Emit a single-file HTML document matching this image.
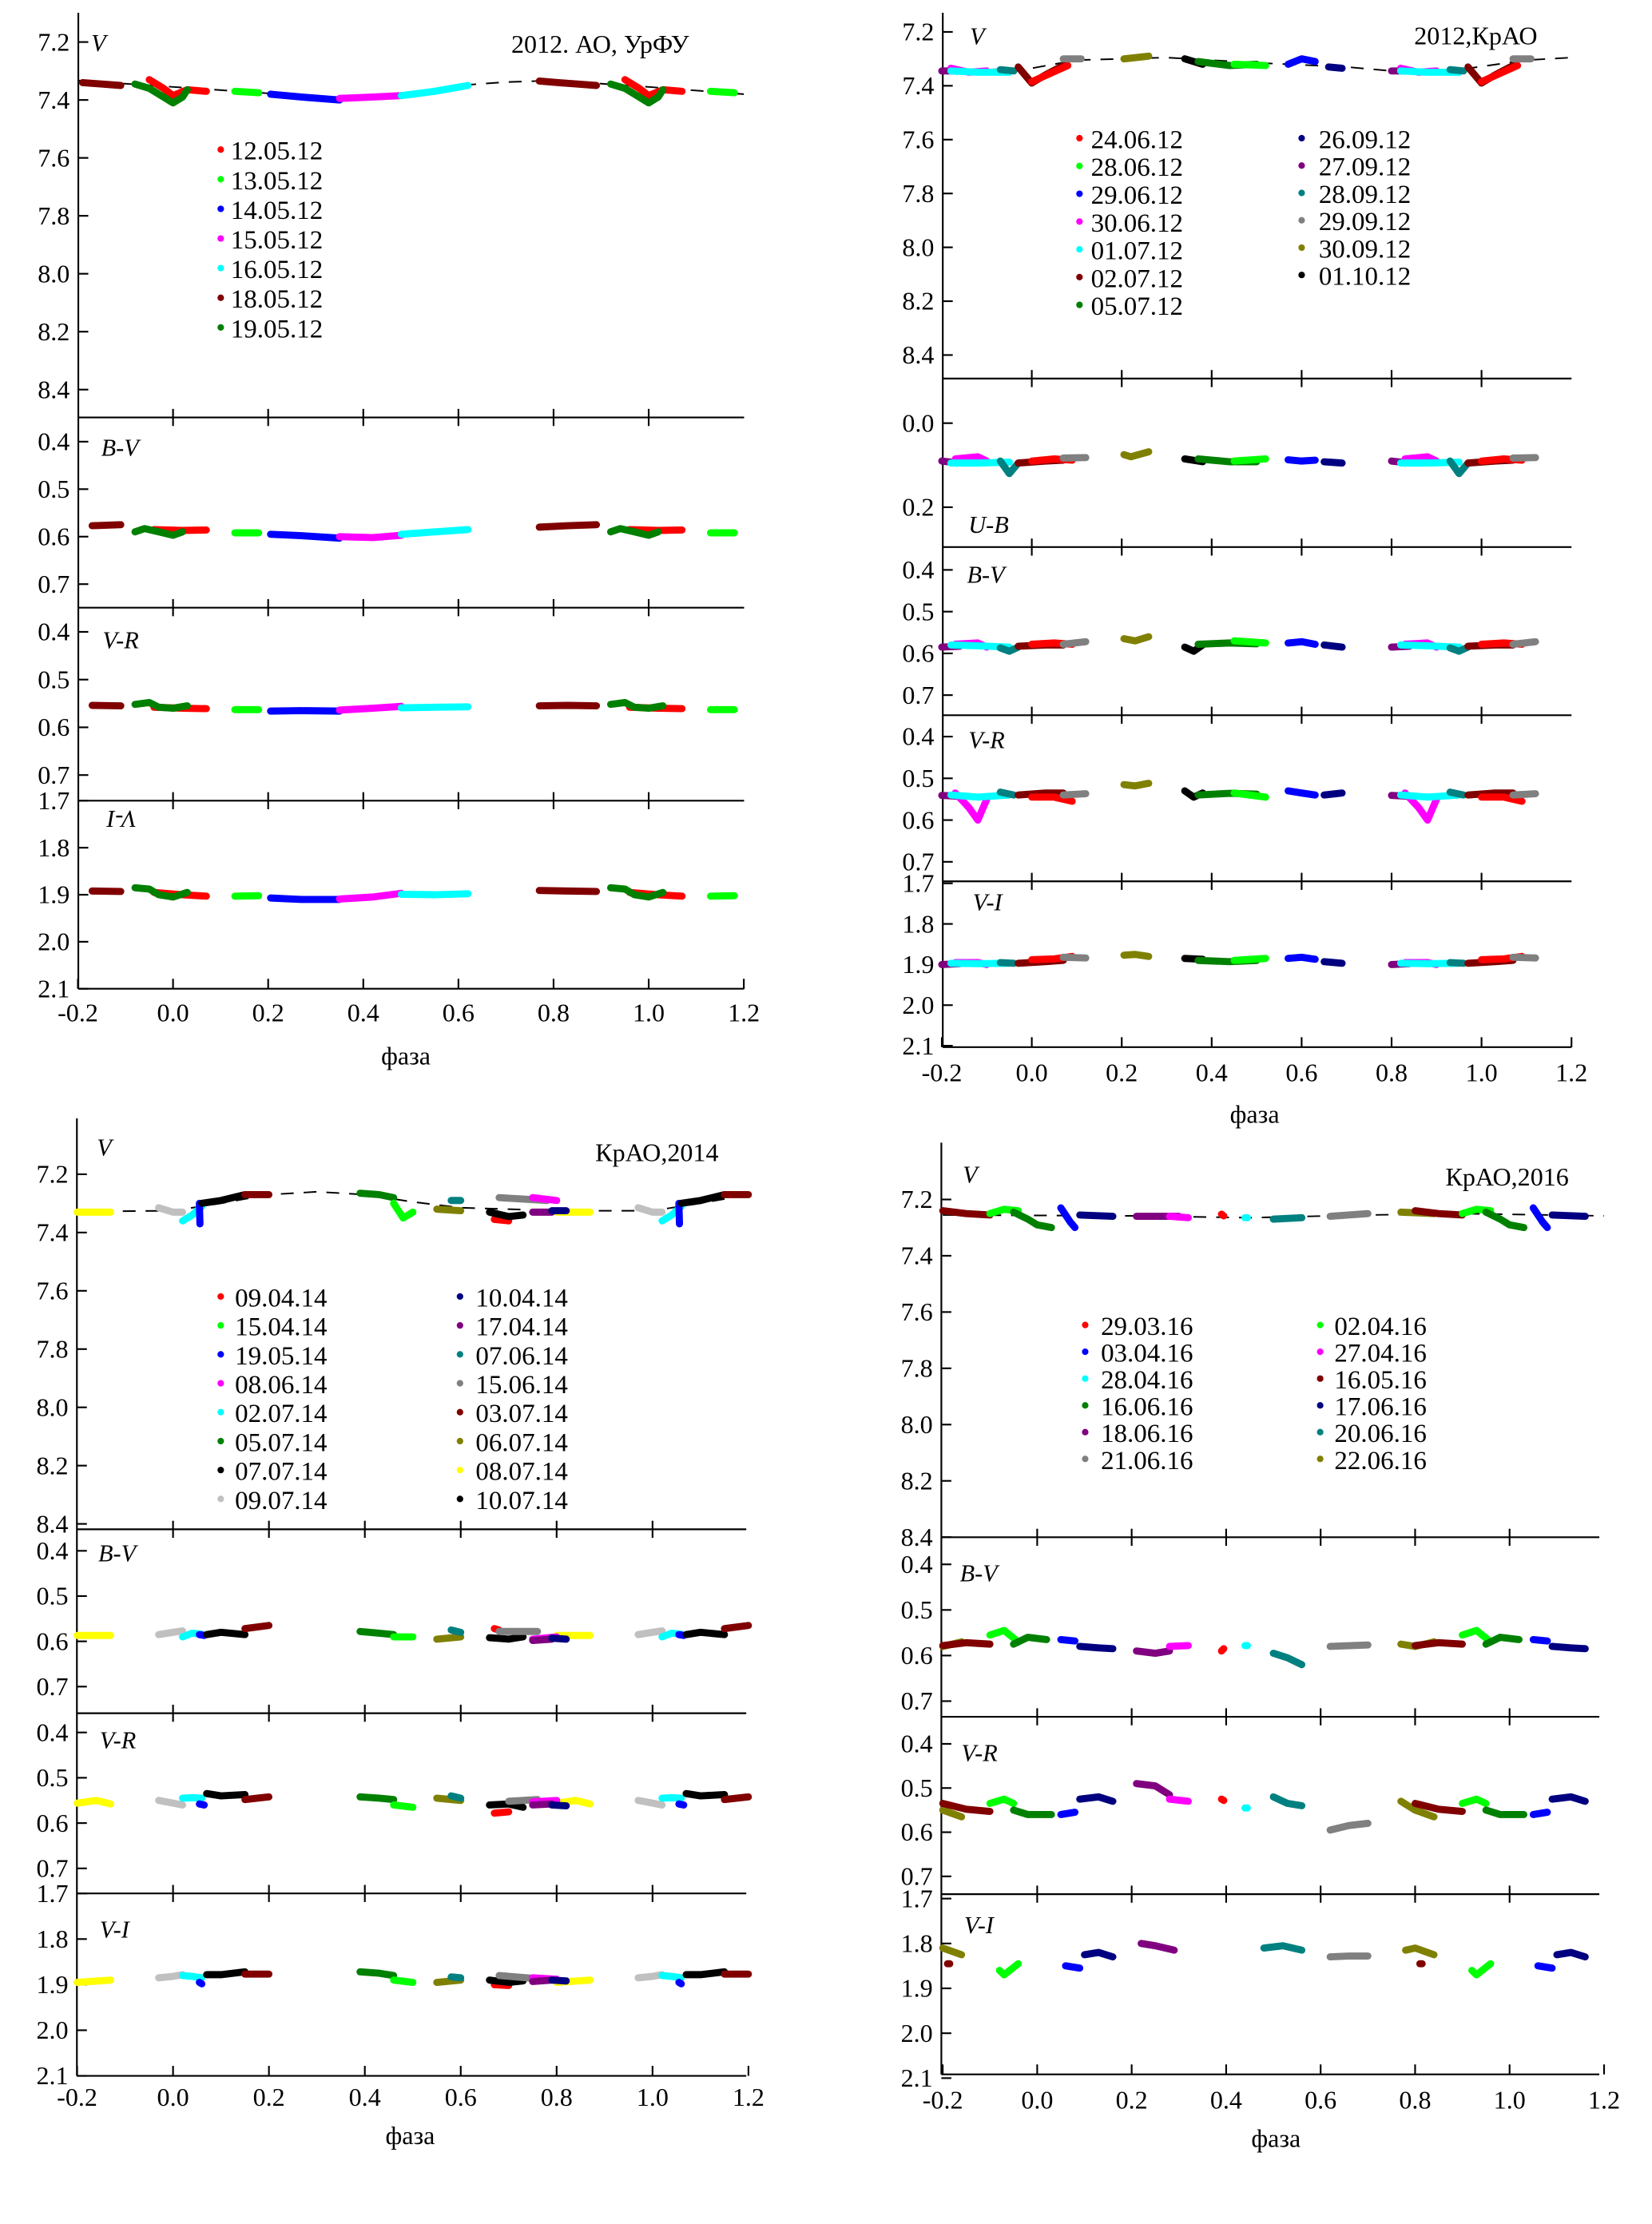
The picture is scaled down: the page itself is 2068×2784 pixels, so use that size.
<!DOCTYPE html>
<html><head><meta charset="utf-8"><title>Light curves</title>
<style>
html,body{margin:0;padding:0;background:#fff;}
svg{display:block;}
text{font-family:"Liberation Serif","DejaVu Serif",serif;fill:#000;}
</style></head>
<body>
<svg id="chart" xmlns="http://www.w3.org/2000/svg" width="2068" height="2784" viewBox="0 0 1160 1561" preserveAspectRatio="none" font-family="Liberation Serif, DejaVu Serif, serif"></svg>
<script>
// ===== colours per observation date =====
const colorsA = {"12.05.12":"#ff0000","13.05.12":"#00ff00","14.05.12":"#0000ff","15.05.12":"#ff00ff","16.05.12":"#00ffff","18.05.12":"#800000","19.05.12":"#008000"};
const colorsB = {"24.06.12":"#ff0000","28.06.12":"#00ff00","29.06.12":"#0000ff","30.06.12":"#ff00ff","01.07.12":"#00ffff","02.07.12":"#800000","05.07.12":"#008000","26.09.12":"#000080","27.09.12":"#800080","28.09.12":"#008080","29.09.12":"#808080","30.09.12":"#808000","01.10.12":"#000000"};
const colorsC = {"09.04.14":"#ff0000","15.04.14":"#00ff00","19.05.14":"#0000ff","08.06.14":"#ff00ff","02.07.14":"#00ffff","05.07.14":"#008000","07.07.14":"#000000","09.07.14":"#c0c0c0","10.04.14":"#000080","17.04.14":"#800080","07.06.14":"#008080","15.06.14":"#808080","03.07.14":"#800000","06.07.14":"#808000","08.07.14":"#ffff00","10.07.14":"#000000"};
const colorsD = {"29.03.16":"#ff0000","03.04.16":"#0000ff","28.04.16":"#00ffff","16.06.16":"#008000","18.06.16":"#800080","21.06.16":"#808080","02.04.16":"#00ff00","27.04.16":"#ff00ff","16.05.16":"#800000","17.06.16":"#000080","20.06.16":"#008080","22.06.16":"#808000"};

// ===== legends (date labels) =====
const legendA = ["12.05.12","13.05.12","14.05.12","15.05.12","16.05.12","18.05.12","19.05.12"];
const legendB1 = ["24.06.12","28.06.12","29.06.12","30.06.12","01.07.12","02.07.12","05.07.12"];
const legendB2 = ["26.09.12","27.09.12","28.09.12","29.09.12","30.09.12","01.10.12"];
const legendC1 = ["09.04.14","15.04.14","19.05.14","08.06.14","02.07.14","05.07.14","07.07.14","09.07.14"];
const legendC2 = ["10.04.14","17.04.14","07.06.14","15.06.14","03.07.14","06.07.14","08.07.14","10.07.14"];
const legendD1 = ["29.03.16","03.04.16","28.04.16","16.06.16","18.06.16","21.06.16"];
const legendD2 = ["02.04.16","27.04.16","16.05.16","17.06.16","20.06.16","22.06.16"];

// ===== tick labels =====
const ticksV = [7.2,7.4,7.6,7.8,8.0,8.2,8.4];
const ticksCol = [0.4,0.5,0.6,0.7];
const ticksVI = [1.7,1.8,1.9,2.0,2.1];
const ticksUB = [0.0,0.2];
const ticksPhase = [-0.2,0.0,0.2,0.4,0.6,0.8,1.0,1.2];

// ===== dashed model curves [phase] / [V mag] =====
const curveA_phase = [-0.2,0.0,0.2,0.35,0.5,0.6,0.7,0.8,1.0,1.2];
const curveA_mag = [7.333,7.355,7.377,7.40,7.385,7.35,7.338,7.333,7.355,7.38];
const curveB_phase = [-0.2,0.0,0.1,0.3,0.5,0.7,0.8,0.95,1.1,1.2];
const curveB_mag = [7.345,7.335,7.305,7.295,7.315,7.33,7.345,7.34,7.305,7.295];
const curveC_phase = [-0.2,0.0,0.1,0.2,0.3,0.4,0.5,0.6,0.7,0.8,1.0,1.1,1.2];
const curveC_mag = [7.328,7.325,7.30,7.27,7.26,7.27,7.295,7.315,7.32,7.325,7.325,7.30,7.27];
const curveD_phase = [-0.2,0.2,0.45,0.7,0.9,1.2];
const curveD_mag = [7.255,7.258,7.265,7.255,7.25,7.258];

// ===== Panel A (2012 AO UrFU) data: [phase, value] =====
const A_V = {
 "18.05.12":[[0.77,7.335],[0.81,7.34],[0.85,7.345],[0.89,7.35]],
 "12.05.12":[[0.95,7.33],[0.98,7.36],[1.0,7.385],[1.03,7.365],[1.07,7.37]],
 "19.05.12":[[0.92,7.345],[0.95,7.36],[0.98,7.39],[1.0,7.41],[1.02,7.39],[1.03,7.365]],
 "13.05.12":[[0.13,7.37],[0.18,7.375]],
 "14.05.12":[[0.205,7.38],[0.27,7.39],[0.35,7.40]],
 "15.05.12":[[0.35,7.395],[0.42,7.39],[0.48,7.385]],
 "16.05.12":[[0.48,7.385],[0.55,7.37],[0.62,7.35]]
};
const A_BV = {
 "18.05.12":[[0.77,0.58],[0.83,0.577],[0.89,0.575]],
 "12.05.12":[[0.96,0.585],[1.02,0.587],[1.07,0.586]],
 "19.05.12":[[0.92,0.59],[0.94,0.583],[0.97,0.59],[1.0,0.597],[1.02,0.59]],
 "13.05.12":[[0.13,0.592],[0.18,0.592]],
 "14.05.12":[[0.205,0.595],[0.27,0.598],[0.35,0.603]],
 "15.05.12":[[0.35,0.6],[0.42,0.602],[0.48,0.597]],
 "16.05.12":[[0.48,0.595],[0.55,0.59],[0.62,0.585]]
};
const A_VR = {
 "18.05.12":[[0.77,0.555],[0.83,0.554],[0.89,0.555]],
 "12.05.12":[[0.96,0.558],[1.02,0.56],[1.07,0.561]],
 "19.05.12":[[0.92,0.552],[0.95,0.548],[0.97,0.558],[1.0,0.56],[1.03,0.555]],
 "13.05.12":[[0.13,0.563],[0.18,0.563]],
 "14.05.12":[[0.205,0.566],[0.27,0.565],[0.35,0.566]],
 "15.05.12":[[0.35,0.564],[0.42,0.56],[0.48,0.556]],
 "16.05.12":[[0.48,0.559],[0.55,0.558],[0.62,0.557]]
};
const A_VI = {
 "18.05.12":[[0.77,1.891],[0.83,1.892],[0.89,1.893]],
 "12.05.12":[[0.96,1.895],[1.02,1.9],[1.07,1.903]],
 "19.05.12":[[0.92,1.885],[0.95,1.888],[0.97,1.9],[1.0,1.905],[1.03,1.895]],
 "13.05.12":[[0.13,1.903],[0.18,1.902]],
 "14.05.12":[[0.205,1.907],[0.27,1.91],[0.35,1.91]],
 "15.05.12":[[0.35,1.909],[0.42,1.905],[0.48,1.897]],
 "16.05.12":[[0.48,1.899],[0.55,1.9],[0.62,1.898]]
};

// ===== Panel B (2012 KrAO) =====
const B_V = {
 "27.09.12":[[0.8,7.345],[0.84,7.345]],
 "30.06.12":[[0.82,7.335],[0.86,7.35],[0.9,7.345]],
 "01.07.12":[[0.82,7.345],[0.88,7.35],[0.95,7.35]],
 "28.09.12":[[0.93,7.34],[0.96,7.345]],
 "02.07.12":[[0.97,7.33],[1.0,7.39],[1.03,7.36],[1.07,7.325]],
 "24.06.12":[[1.0,7.385],[1.04,7.355],[1.08,7.325]],
 "29.09.12":[[1.07,7.30],[1.11,7.30]],
 "30.09.12":[[0.205,7.30],[0.26,7.29]],
 "01.10.12":[[0.34,7.30],[0.38,7.32]],
 "05.07.12":[[0.37,7.31],[0.44,7.325],[0.5,7.32]],
 "28.06.12":[[0.45,7.32],[0.52,7.325]],
 "29.06.12":[[0.57,7.32],[0.6,7.30],[0.63,7.31]],
 "26.09.12":[[0.66,7.33],[0.69,7.335]]
};
const B_UB = {
 "27.09.12":[[0.8,0.09],[0.84,0.095]],
 "30.06.12":[[0.83,0.085],[0.88,0.08],[0.9,0.09]],
 "01.07.12":[[0.82,0.095],[0.88,0.095],[0.95,0.093]],
 "28.09.12":[[0.93,0.09],[0.95,0.12],[0.97,0.095]],
 "02.07.12":[[0.97,0.095],[1.03,0.09],[1.07,0.088]],
 "24.06.12":[[1.0,0.09],[1.05,0.085],[1.09,0.088]],
 "29.09.12":[[1.07,0.083],[1.12,0.082]],
 "30.09.12":[[0.205,0.075],[0.22,0.08],[0.26,0.068]],
 "01.10.12":[[0.34,0.085],[0.38,0.092]],
 "05.07.12":[[0.37,0.085],[0.44,0.092],[0.5,0.092]],
 "28.06.12":[[0.45,0.09],[0.52,0.085]],
 "29.06.12":[[0.57,0.087],[0.6,0.09],[0.63,0.088]],
 "26.09.12":[[0.65,0.092],[0.69,0.095]]
};
const B_BV = {
 "27.09.12":[[0.8,0.585],[0.84,0.583]],
 "30.06.12":[[0.83,0.578],[0.88,0.575],[0.9,0.585]],
 "01.07.12":[[0.82,0.58],[0.88,0.582],[0.95,0.585]],
 "28.09.12":[[0.93,0.587],[0.95,0.595],[0.97,0.585]],
 "02.07.12":[[0.97,0.583],[1.03,0.58],[1.07,0.58]],
 "24.06.12":[[1.0,0.578],[1.05,0.575],[1.09,0.578]],
 "29.09.12":[[1.07,0.578],[1.12,0.572]],
 "30.09.12":[[0.205,0.565],[0.23,0.57],[0.26,0.56]],
 "01.10.12":[[0.34,0.585],[0.36,0.595],[0.38,0.58]],
 "05.07.12":[[0.37,0.578],[0.44,0.575],[0.5,0.577]],
 "28.06.12":[[0.45,0.57],[0.52,0.575]],
 "29.06.12":[[0.57,0.575],[0.6,0.572],[0.63,0.578]],
 "26.09.12":[[0.65,0.58],[0.69,0.585]]
};
const B_VR = {
 "27.09.12":[[0.8,0.541],[0.84,0.543]],
 "30.06.12":[[0.83,0.535],[0.86,0.57],[0.88,0.6],[0.9,0.55]],
 "01.07.12":[[0.82,0.54],[0.88,0.545],[0.95,0.54]],
 "28.09.12":[[0.93,0.533],[0.96,0.54]],
 "02.07.12":[[0.97,0.54],[1.03,0.535],[1.07,0.535]],
 "24.06.12":[[1.0,0.545],[1.05,0.545],[1.09,0.555]],
 "29.09.12":[[1.07,0.54],[1.12,0.537]],
 "30.09.12":[[0.205,0.515],[0.23,0.518],[0.26,0.512]],
 "01.10.12":[[0.34,0.53],[0.36,0.545],[0.38,0.535]],
 "05.07.12":[[0.37,0.54],[0.44,0.536],[0.5,0.538]],
 "28.06.12":[[0.45,0.535],[0.52,0.545]],
 "29.06.12":[[0.57,0.53],[0.6,0.535],[0.63,0.54]],
 "26.09.12":[[0.65,0.54],[0.69,0.535]]
};
const B_VI = {
 "27.09.12":[[0.8,1.9],[0.84,1.898]],
 "30.06.12":[[0.83,1.895],[0.88,1.895],[0.9,1.9]],
 "01.07.12":[[0.82,1.897],[0.88,1.898],[0.95,1.897]],
 "28.09.12":[[0.93,1.895],[0.96,1.897]],
 "02.07.12":[[0.97,1.897],[1.03,1.893],[1.07,1.89]],
 "24.06.12":[[1.0,1.888],[1.05,1.886],[1.09,1.88]],
 "29.09.12":[[1.07,1.882],[1.12,1.884]],
 "30.09.12":[[0.205,1.877],[0.23,1.875],[0.26,1.88]],
 "01.10.12":[[0.34,1.885],[0.38,1.887]],
 "05.07.12":[[0.37,1.89],[0.44,1.893],[0.5,1.89]],
 "28.06.12":[[0.45,1.89],[0.52,1.885]],
 "29.06.12":[[0.57,1.885],[0.6,1.882],[0.63,1.887]],
 "26.09.12":[[0.65,1.893],[0.69,1.897]]
};

// ===== Panel C (2014 KrAO) =====
const C_V = {
 "08.07.14":[[0.8,7.33],[0.87,7.33]],
 "09.07.14":[[0.97,7.315],[1.0,7.33],[1.02,7.33]],
 "02.07.14":[[0.02,7.36],[0.04,7.34],[0.06,7.31]],
 "19.05.14":[[0.055,7.30],[0.056,7.37]],
 "07.07.14":[[0.06,7.30],[0.1,7.29],[0.15,7.27]],
 "03.07.14":[[0.15,7.27],[0.2,7.27]],
 "05.07.14":[[0.39,7.265],[0.43,7.27],[0.46,7.28]],
 "15.04.14":[[0.46,7.30],[0.48,7.35],[0.5,7.33]],
 "06.07.14":[[0.55,7.32],[0.6,7.325]],
 "07.06.14":[[0.58,7.29],[0.6,7.29]],
 "09.04.14":[[0.67,7.355],[0.7,7.36]],
 "10.07.14":[[0.66,7.33],[0.7,7.345],[0.73,7.34]],
 "15.06.14":[[0.68,7.28],[0.78,7.29]],
 "08.06.14":[[0.75,7.28],[0.8,7.29]],
 "17.04.14":[[0.75,7.33],[0.79,7.33]],
 "10.04.14":[[0.79,7.325],[0.82,7.325]]
};
const C_BV = {
 "08.07.14":[[0.8,0.587],[0.87,0.587]],
 "09.07.14":[[0.97,0.585],[1.0,0.58],[1.02,0.577]],
 "02.07.14":[[0.02,0.59],[0.04,0.582],[0.06,0.584]],
 "19.05.14":[[0.055,0.585],[0.065,0.587]],
 "07.07.14":[[0.07,0.585],[0.1,0.58],[0.15,0.585]],
 "03.07.14":[[0.15,0.572],[0.2,0.565]],
 "05.07.14":[[0.39,0.578],[0.43,0.582],[0.46,0.585]],
 "15.04.14":[[0.46,0.59],[0.5,0.59]],
 "06.07.14":[[0.55,0.595],[0.6,0.59]],
 "07.06.14":[[0.58,0.575],[0.6,0.58]],
 "09.04.14":[[0.67,0.572],[0.68,0.575]],
 "10.07.14":[[0.66,0.592],[0.7,0.595],[0.73,0.59]],
 "15.06.14":[[0.68,0.578],[0.76,0.578]],
 "08.06.14":[[0.75,0.595],[0.8,0.59]],
 "17.04.14":[[0.75,0.598],[0.79,0.595]],
 "10.04.14":[[0.79,0.593],[0.82,0.595]]
};
const C_VR = {
 "08.07.14":[[0.8,0.556],[0.84,0.55],[0.87,0.558]],
 "09.07.14":[[0.97,0.55],[1.0,0.556],[1.02,0.56]],
 "02.07.14":[[0.02,0.545],[0.04,0.544],[0.06,0.545]],
 "19.05.14":[[0.055,0.558],[0.065,0.56]],
 "07.07.14":[[0.07,0.535],[0.1,0.54],[0.15,0.537]],
 "03.07.14":[[0.15,0.548],[0.2,0.542]],
 "05.07.14":[[0.39,0.542],[0.43,0.545],[0.46,0.548]],
 "15.04.14":[[0.46,0.56],[0.5,0.565]],
 "06.07.14":[[0.55,0.545],[0.6,0.55]],
 "07.06.14":[[0.58,0.54],[0.6,0.545]],
 "09.04.14":[[0.67,0.578],[0.7,0.575]],
 "10.07.14":[[0.66,0.56],[0.7,0.558],[0.73,0.565]],
 "15.06.14":[[0.7,0.552],[0.76,0.548]],
 "08.06.14":[[0.75,0.553],[0.8,0.55]],
 "17.04.14":[[0.75,0.56],[0.79,0.558]],
 "10.04.14":[[0.79,0.56],[0.82,0.562]]
};
const C_VI = {
 "08.07.14":[[0.8,1.895],[0.87,1.89]],
 "09.07.14":[[0.97,1.885],[1.0,1.882],[1.02,1.878]],
 "02.07.14":[[0.02,1.88],[0.04,1.882],[0.06,1.885]],
 "19.05.14":[[0.055,1.895],[0.06,1.898]],
 "07.07.14":[[0.07,1.878],[0.1,1.878],[0.15,1.872]],
 "03.07.14":[[0.15,1.877],[0.2,1.877]],
 "05.07.14":[[0.39,1.872],[0.43,1.875],[0.46,1.88]],
 "15.04.14":[[0.46,1.89],[0.5,1.895]],
 "06.07.14":[[0.55,1.895],[0.6,1.89]],
 "07.06.14":[[0.58,1.883],[0.6,1.885]],
 "09.04.14":[[0.67,1.9],[0.7,1.902]],
 "10.07.14":[[0.66,1.89],[0.7,1.895],[0.73,1.892]],
 "15.06.14":[[0.68,1.88],[0.76,1.887]],
 "08.06.14":[[0.75,1.885],[0.8,1.888]],
 "17.04.14":[[0.75,1.893],[0.79,1.89]],
 "10.04.14":[[0.79,1.89],[0.82,1.892]]
};

// ===== Panel D (2016 KrAO) =====
const D_V = {
 "22.06.16":[[0.77,7.245],[0.84,7.25]],
 "16.05.16":[[0.8,7.24],[0.85,7.25],[0.9,7.255]],
 "02.04.16":[[0.9,7.25],[0.93,7.235],[0.96,7.24]],
 "16.06.16":[[0.95,7.245],[0.98,7.27],[1.0,7.29],[1.03,7.3]],
 "03.04.16":[[0.05,7.23],[0.07,7.28],[0.08,7.30]],
 "17.06.16":[[0.09,7.255],[0.16,7.26]],
 "18.06.16":[[0.21,7.26],[0.3,7.26]],
 "27.04.16":[[0.28,7.26],[0.32,7.265]],
 "29.03.16":[[0.39,7.252],[0.395,7.258]],
 "28.04.16":[[0.44,7.265],[0.445,7.265]],
 "20.06.16":[[0.5,7.27],[0.56,7.265]],
 "21.06.16":[[0.62,7.26],[0.7,7.25]]
};
const D_BV = {
 "22.06.16":[[0.77,0.575],[0.8,0.58],[0.84,0.57]],
 "16.05.16":[[0.8,0.578],[0.85,0.572],[0.9,0.575]],
 "02.04.16":[[0.9,0.555],[0.93,0.545],[0.96,0.57]],
 "16.06.16":[[0.95,0.575],[0.98,0.56],[1.02,0.565]],
 "03.04.16":[[0.05,0.565],[0.08,0.568]],
 "17.06.16":[[0.09,0.58],[0.13,0.583],[0.16,0.585]],
 "18.06.16":[[0.21,0.59],[0.25,0.595],[0.28,0.59]],
 "27.04.16":[[0.28,0.58],[0.32,0.578]],
 "29.03.16":[[0.39,0.59],[0.395,0.585]],
 "28.04.16":[[0.44,0.578],[0.445,0.578]],
 "20.06.16":[[0.5,0.595],[0.53,0.605],[0.56,0.62]],
 "21.06.16":[[0.62,0.58],[0.7,0.577]]
};
const D_VR = {
 "22.06.16":[[0.77,0.53],[0.8,0.55],[0.84,0.565]],
 "16.05.16":[[0.8,0.535],[0.85,0.548],[0.9,0.553]],
 "02.04.16":[[0.9,0.535],[0.93,0.525],[0.95,0.535]],
 "16.06.16":[[0.95,0.55],[0.98,0.56],[1.03,0.56]],
 "03.04.16":[[0.05,0.56],[0.08,0.555]],
 "17.06.16":[[0.09,0.525],[0.13,0.52],[0.16,0.53]],
 "18.06.16":[[0.21,0.49],[0.25,0.495],[0.28,0.515]],
 "27.04.16":[[0.28,0.525],[0.32,0.53]],
 "29.03.16":[[0.39,0.525],[0.395,0.528]],
 "28.04.16":[[0.44,0.545],[0.445,0.545]],
 "20.06.16":[[0.5,0.52],[0.53,0.535],[0.56,0.54]],
 "21.06.16":[[0.62,0.595],[0.66,0.585],[0.7,0.58]]
};
const D_VI = {
 "22.06.16":[[0.78,1.815],[0.8,1.81],[0.84,1.825]],
 "16.05.16":[[0.81,1.845],[0.815,1.845]],
 "02.04.16":[[0.92,1.86],[0.93,1.87],[0.96,1.845]],
 "03.04.16":[[0.06,1.85],[0.09,1.855]],
 "17.06.16":[[0.1,1.825],[0.13,1.82],[0.16,1.83]],
 "18.06.16":[[0.22,1.8],[0.25,1.805],[0.29,1.815]],
 "20.06.16":[[0.48,1.81],[0.52,1.805],[0.56,1.815]],
 "21.06.16":[[0.62,1.83],[0.66,1.828],[0.7,1.828]]
};

// ===== rendering =====
const NS = "http://www.w3.org/2000/svg";
const svg = document.getElementById("chart");
const FONT = "Liberation Serif, DejaVu Serif, serif";
function el(tag, attrs, parent) {
  const e = document.createElementNS(NS, tag);
  for (const k in attrs) e.setAttribute(k, attrs[k]);
  if (tag === "text") e.setAttribute("font-family", FONT);
  (parent || svg).appendChild(e);
  return e;
}
function fmt(v) { return v.toFixed(1); }

const panels = [
 {id:"a", title:"2012. АО, УрФУ", titleX:359, titleY:37, p0:121.5, pu:334, ax:55, top:9, right:522.5,
  xlabY:711, xTitleX:285, xTitleY:741, colors:colorsA, curveP:curveA_phase, curveM:curveA_mag,
  legends:[{items:legendA, mx:155, tx:162, y0:106, dy:20.8}],
  bands:[
   {name:"V", data:A_V, y0:29.5, k:203.3, v0:7.2, ticks:ticksV, bottom:293, lab:"V", lx:64, ly:36},
   {name:"B-V", data:A_BV, y0:310, k:333.3, v0:0.4, ticks:ticksCol, bottom:426.5, lab:"B-V", lx:71, ly:320},
   {name:"V-R", data:A_VR, y0:443.5, k:335, v0:0.4, ticks:ticksCol, bottom:562, lab:"V-R", lx:72, ly:455},
   {name:"V-I", data:A_VI, y0:562, k:330, v0:1.7, ticks:ticksVI, bottom:694, lab:"V-I", lx:70, ly:581, flip:true}
  ]},
 {id:"b", title:"2012,КрАО", titleX:993, titleY:31, p0:724.5, pu:315.8, ax:662, top:9, right:1103.5,
  xlabY:753, xTitleX:881, xTitleY:782, colors:colorsB, curveP:curveB_phase, curveM:curveB_mag,
  legends:[{items:legendB1, mx:758, tx:766, y0:98, dy:19.5},{items:legendB2, mx:914, tx:926, y0:98, dy:19.2}],
  bands:[
   {name:"V", data:B_V, y0:22.4, k:189, v0:7.2, ticks:ticksV, bottom:265.7, lab:"V", lx:681, ly:31},
   {name:"U-B", data:B_UB, y0:297, k:295, v0:0.0, ticks:ticksUB, bottom:384, lab:"U-B", lx:680, ly:374},
   {name:"B-V", data:B_BV, y0:400, k:293, v0:0.4, ticks:ticksCol, bottom:502, lab:"B-V", lx:679, ly:409},
   {name:"V-R", data:B_VR, y0:517, k:293, v0:0.4, ticks:ticksCol, bottom:618.6, lab:"V-R", lx:680, ly:525},
   {name:"V-I", data:B_VI, y0:620, k:285, v0:1.7, ticks:ticksVI, bottom:735, lab:"V-I", lx:683, ly:639}
  ]},
 {id:"c", title:"КрАО,2014", titleX:418, titleY:815, p0:121.5, pu:336.7, ax:54, top:785, right:524,
  xlabY:1472, xTitleX:288, xTitleY:1499, colors:colorsC, curveP:curveC_phase, curveM:curveC_mag,
  legends:[{items:legendC1, mx:155, tx:165, y0:911, dy:20.3},{items:legendC2, mx:323, tx:334, y0:911, dy:20.3}],
  bands:[
   {name:"V", data:C_V, y0:824.2, k:204.5, v0:7.2, ticks:ticksV, bottom:1073.4, lab:"V", lx:68, ly:811},
   {name:"B-V", data:C_BV, y0:1088.5, k:317.7, v0:0.4, ticks:ticksCol, bottom:1202.5, lab:"B-V", lx:69, ly:1096},
   {name:"V-R", data:C_VR, y0:1216, k:318, v0:0.4, ticks:ticksCol, bottom:1329, lab:"V-R", lx:70, ly:1227},
   {name:"V-I", data:C_VI, y0:1329, k:320, v0:1.7, ticks:ticksVI, bottom:1457, lab:"V-I", lx:70, ly:1360}
  ]},
 {id:"d", title:"КрАО,2016", titleX:1015, titleY:832, p0:728.3, pu:331.7, ax:661, top:802, right:1123,
  xlabY:1474, xTitleX:896, xTitleY:1501, colors:colorsD, curveP:curveD_phase, curveM:curveD_mag,
  legends:[{items:legendD1, mx:762, tx:773, y0:931, dy:18.8},{items:legendD2, mx:927, tx:937, y0:931, dy:18.8}],
  bands:[
   {name:"V", data:D_V, y0:841.9, k:197.5, v0:7.2, ticks:ticksV, bottom:1079, lab:"V", lx:676, ly:830},
   {name:"B-V", data:D_BV, y0:1098, k:320, v0:0.4, ticks:ticksCol, bottom:1205, lab:"B-V", lx:674, ly:1110},
   {name:"V-R", data:D_VR, y0:1224, k:310, v0:0.4, ticks:ticksCol, bottom:1329.5, lab:"V-R", lx:675, ly:1236},
   {name:"V-I", data:D_VI, y0:1332.6, k:315, v0:1.7, ticks:ticksVI, bottom:1456, lab:"V-I", lx:677, ly:1357}
  ]}
];

panels.forEach(function(P) {
  const g = el("g", {});
  
  
  const xOf = function(p) { return P.p0 + p * P.pu; };

  const ya = el("line", {x1:P.ax, y1:P.top, x2:P.ax, y2:P.bands[P.bands.length-1].bottom, stroke:"#000", "stroke-width":1.2}, g);
  
  

  const t = el("text", {x:P.titleX, y:P.titleY, "font-size":18}, g);
  
  
  t.textContent = P.title;

  P.bands.forEach(function(B, bi) {
    const yOf = function(v) { return B.y0 + (v - B.v0) * B.k; };
    const bg = el("g", {}, g);
    
    
    const isLast = bi === P.bands.length - 1;
    const hl = el("line", {x1:P.ax, y1:B.bottom, x2:P.right, y2:B.bottom, stroke:"#000", "stroke-width":1.2}, bg);
    
    
    if (!isLast) {
      ticksPhase.forEach(function(p) {
        if (p < 0 || p > 1.01) return;
        const tk = el("line", {x1:xOf(p), y1:B.bottom-6, x2:xOf(p), y2:B.bottom+6, stroke:"#000", "stroke-width":1.2}, bg);
        
        
      });
    } else {
      ticksPhase.forEach(function(p) {
        const tk = el("line", {x1:xOf(p), y1:B.bottom-7, x2:xOf(p), y2:B.bottom, stroke:"#000", "stroke-width":1.2}, bg);
        
        
        const tl = el("text", {x:xOf(p), y:P.xlabY + 6, "font-size":18, "text-anchor":"middle"}, bg);
        
        
        tl.textContent = fmt(p);
      });
    }
    B.ticks.forEach(function(v) {
      const y = yOf(v);
      const tk = el("line", {x1:P.ax, y1:y, x2:P.ax+7, y2:y, stroke:"#000", "stroke-width":1.2}, bg);
      
      
      const tl = el("text", {x:P.ax-6, y:y+6, "font-size":18, "text-anchor":"end"}, bg);
      
      
      tl.textContent = fmt(v);
    });
    const lb = el("text", {x:B.lx, y:B.ly, "font-size":17, "font-style":"italic"}, bg);
    
    
    lb.textContent = B.lab;
    if (B.flip) {
      lb.setAttribute("transform", "rotate(180 " + (B.lx + 13) + " " + (B.ly - 6) + ")");
    }
    if (B.name === "V") {
      let d = "";
      P.curveP.forEach(function(p, i) { d += (i ? " L" : "M") + xOf(p).toFixed(1) + " " + yOf(P.curveM[i]).toFixed(1); });
      const c = el("path", {d:d, fill:"none", stroke:"#000", "stroke-width":1.1, "stroke-dasharray":"9 7"}, bg);
      
      
    }
    Object.keys(B.data).forEach(function(date) {
      const pts = B.data[date];
      [-1, 0, 1].forEach(function(shift) {
        const sp = pts.map(function(q) { return [q[0] + shift, q[1]]; }).filter(function(q) { return q[0] >= -0.2 && q[0] <= 1.2; });
        if (!sp.length) return;
        const col = P.colors[date];
        let d = "";
        sp.forEach(function(q, i) { d += (i ? " L" : "M") + xOf(q[0]).toFixed(1) + " " + yOf(q[1]).toFixed(1); });
        const s = el("path", {d:d, fill:"none", stroke:col, "stroke-width":5, "stroke-linecap":"round", "stroke-linejoin":"round"}, bg);
        
        
      });
    });
  });

  const xt = el("text", {x:P.xTitleX, y:P.xTitleY + 6, "font-size":18, "text-anchor":"middle"}, g);
  
  
  xt.textContent = "фаза";

  P.legends.forEach(function(L) {
    L.items.forEach(function(date, i) {
      const y = L.y0 + i * L.dy;
      const m = el("circle", {cx:L.mx, cy:y - 1, r:2.3, fill:P.colors[date]}, g);
      
      
      const lt = el("text", {x:L.tx, y:y + 6, "font-size":18.5}, g);
      
      
      lt.textContent = date;
    });
  });
});
</script>
</body></html>
